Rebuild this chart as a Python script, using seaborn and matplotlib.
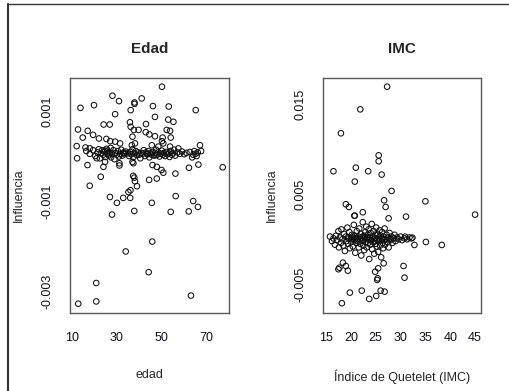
import matplotlib
matplotlib.use("Agg")
import matplotlib.pyplot as plt
import seaborn as sns
import numpy as np
import pandas as pd

# ---------------- data ----------------
# Left panel: edad vs influencia (values of influencia in units of 1e-3)
edad_out = [50.1, 28.1, 31.0, 37.9, 37.9, 41.1, 13.9, 19.9, 46.1, 53.1, 65.1, 36.2, 29.3, 47.0,
            52.9, 55.2, 24.2, 26.9, 35.9, 36.2, 43.0, 12.8, 17.1, 14.9, 19.5, 22.1, 37.6, 39.7,
            42.9, 44.5, 47.0, 50.4, 52.2, 53.7, 54.0, 50.1, 37.0, 25.4, 27.1, 29.3, 31.5, 12.2,
            16.1, 18.1, 67.0, 36.7, 38.1, 45.6, 48.5, 50.7, 53.7, 57.4,
            12.4, 17.0, 21.1, 24.1, 31.2, 31.2, 24.8, 37.4, 37.0, 45.9, 47.8, 49.9, 50.7, 62.1,
            66.3, 77.1, 22.9, 37.3, 37.8, 38.1, 39.0, 18.0, 44.4, 47.8, 56.1, 27.0, 30.1, 32.9,
            36.0, 35.2, 36.1, 45.6, 56.2, 64.0, 66.1, 27.9, 37.8, 54.0, 62.0, 34.0, 45.8, 44.2,
            20.9, 20.9, 12.9, 63.0]
infl_edad_out = [1.54, 1.34, 1.22, 1.16, 1.19, 1.28, 1.07, 1.13, 1.11, 1.10, 1.02, 1.02, 0.93, 0.87,
                 0.81, 0.76, 0.70, 0.70, 0.75, 0.65, 0.71, 0.59, 0.56, 0.41, 0.47, 0.39, 0.58, 0.58,
                 0.53, 0.48, 0.44, 0.41, 0.58, 0.56, 0.41, 0.33, 0.43, 0.38, 0.33, 0.32, 0.28, 0.22,
                 0.19, 0.17, 0.24, 0.24, 0.28, 0.24, 0.21, 0.28, 0.21, 0.17,
                 -0.05, -0.20, -0.05, -0.24, -0.16, -0.21, -0.13, -0.16, -0.13, -0.20, -0.24, -0.31, -0.37, -0.26,
                 -0.19, -0.25, -0.46, -0.44, -0.48, -0.56, -0.67, -0.66, -0.53, -0.50, -0.39, -0.91, -1.04, -0.93,
                 -0.93, -0.80, -0.76, -1.04, -0.89, -1.00, -1.13, -1.30, -1.22, -1.24, -1.23, -2.12, -1.90, -2.58,
                 -2.82, -3.23, -3.28, -3.10]
edad_band = [16.5, 18.0, 19.5, 20.5, 21.5, 22.0, 22.5, 23.0, 23.5, 24.0, 24.5, 25.0, 25.5, 25.8, 26.0,
             26.5, 27.0, 27.3, 27.5, 28.0, 28.5, 29.0, 29.5, 30.0, 30.5, 31.0, 31.5, 32.0, 32.5, 33.0,
             33.5, 34.0, 35.0, 35.5, 36.0, 36.5, 37.0, 37.5, 38.0, 38.5, 39.0, 39.5, 40.0, 40.5, 41.0,
             41.5, 42.0, 42.5, 43.0, 43.5, 44.0, 44.5, 45.0, 45.5, 46.0, 46.5, 47.0, 47.5, 48.0, 48.5,
             49.0, 49.5, 50.0, 50.5, 51.0, 51.5, 52.0, 52.5, 53.0, 53.5, 54.0, 54.5, 55.0, 55.5, 56.0,
             57.0, 58.0, 59.0, 60.0, 61.0, 62.5, 63.5, 64.0, 64.5, 65.0, 65.5, 66.0, 67.5, 33.2, 24.7,
             26.7, 43.8, 47.3]
infl_edad_band = [0.11, 0.05, 0.13, 0.00, 0.08, 0.15, -0.05, 0.06, 0.13, 0.03, 0.09, -0.02, 0.16, 0.05, 0.12,
                  0.01, 0.08, 0.18, -0.03, 0.05, 0.13, -0.07, 0.07, 0.03, 0.11, -0.01, 0.05, 0.14, 0.01, 0.07,
                  0.04, 0.10, 0.06, 0.00, 0.09, 0.04, 0.15, -0.02, 0.06, 0.11, 0.02, 0.08, 0.03, -0.05, 0.07,
                  0.05, 0.13, 0.00, 0.08, 0.04, 0.11, -0.03, 0.06, 0.03, 0.09, 0.01, 0.07, 0.14, 0.03, 0.08,
                  -0.01, 0.05, 0.12, 0.03, 0.07, 0.00, 0.09, 0.04, 0.06, -0.02, 0.11, 0.03, 0.06, 0.14, 0.01,
                  0.08, 0.05, 0.10, 0.04, 0.07, 0.09, -0.03, 0.03, 0.11, 0.05, 0.00, 0.08, 0.11, 0.08, 0.12,
                  0.04, 0.05, 0.02]

# Right panel: IMC vs influencia (values of influencia in units of 1e-3)
imc_out = [27.3, 21.9, 18.0, 25.6, 25.6, 21.0, 16.5, 23.5, 26.2, 20.8, 28.2, 26.7, 35.0, 27.0, 19.0,
           19.6, 22.4, 20.8, 31.1, 27.6, 45.0, 20.7, 17.5, 17.7, 18.4, 19.0, 19.4, 18.2, 19.8, 22.2,
           23.7, 25.1, 26.0, 26.8, 25.3, 25.4, 24.9, 25.5, 26.6, 30.6, 30.8, 38.3, 35.1, 32.8, 30.9,
           32.4]
infl_imc_out = [16.96, 14.44, 11.78, 9.33, 8.67, 7.96, 7.56, 7.56, 7.19, 6.41, 5.37, 4.33, 4.22, 3.59, 3.89,
                3.59, 3.00, 2.63, 2.52, 2.33, 2.74, 2.62, -3.33, -3.16, -2.60, -2.97, -3.49, -7.11, -5.93, -5.71,
                -6.63, -6.30, -5.71, -5.82, -4.52, -4.34, -3.60, -3.22, -2.67, -2.97, -4.27, -0.63, -0.30, -0.63, 0.29,
                0.18]
imc_band = [15.8, 16.2, 16.5, 16.8, 17.0, 17.2, 17.5, 17.6, 17.8, 18.0, 18.1, 18.3, 18.5, 18.6, 18.8,
            19.0, 19.1, 19.3, 19.4, 19.6, 19.7, 19.8, 20.0, 20.1, 20.2, 20.4, 20.5, 20.6, 20.7, 20.8,
            20.9, 21.0, 21.1, 21.2, 21.3, 21.5, 21.6, 21.7, 21.8, 21.9, 22.0, 22.1, 22.2, 22.3, 22.4,
            22.5, 22.6, 22.7, 22.8, 22.9, 23.0, 23.1, 23.2, 23.3, 23.4, 23.5, 23.6, 23.7, 23.8, 23.9,
            24.0, 24.1, 24.2, 24.3, 24.4, 24.5, 24.6, 24.7, 24.8, 24.9, 25.0, 25.1, 25.2, 25.3, 25.4,
            25.5, 25.6, 25.7, 25.8, 25.9, 26.0, 26.1, 26.2, 26.3, 26.4, 26.5, 26.6, 26.7, 26.8, 26.9,
            27.0, 27.2, 27.3, 27.5, 27.6, 27.8, 28.0, 28.2, 28.4, 28.6, 28.8, 29.0, 29.3, 29.6, 30.0,
            30.3, 30.8, 31.3, 31.8, 32.2, 20.3, 21.4, 22.4, 23.3, 24.3, 25.3, 26.3, 19.5, 27.8, 23.8,
            24.8, 22.8]
infl_imc_band = [0.3, -0.2, 0.1, -0.6, 0.4, -0.1, 0.9, -0.9, 0.2, -0.4, 1.1, 0.0, -0.7, 0.6, -1.3,
                 0.3, -0.2, 1.3, -0.5, 0.1, 0.8, -1.0, 0.0, -0.3, 0.5, -0.8, 0.2, 1.6, -0.1, 0.4,
                 -1.5, 0.1, -0.4, 0.9, -0.2, 0.3, -0.9, 1.2, 0.0, -0.5, 0.6, -1.8, 0.2, -0.2, 1.9,
                 -0.7, 0.4, -1.2, 0.1, 0.8, -0.3, 1.4, -0.9, 0.0, 0.5, -0.4, 1.1, -2.2, 0.2, -0.6,
                 0.7, -0.1, 1.7, -1.1, 0.3, -0.3, 0.9, -1.6, 0.1, 0.5, -0.5, 1.3, -0.8, 0.0, 0.6,
                 -1.4, 0.2, -0.2, 1.0, -0.7, 0.4, -2.0, 0.1, 0.8, -0.4, -1.0, 0.3, -0.1, 1.2, -0.6,
                 0.0, 0.5, -0.3, 0.2, -0.9, 0.7, -0.1, 0.3, -0.4, 0.1, 0.5, -0.2, 0.2, 0.0, 0.3,
                 -0.1, 0.1, 0.0, 0.2, 0.1, 0.1, 0.0, -0.1, 0.2, 0.1, -0.1, 0.0, 0.2, 0.0, -0.1,
                 -0.2, 0.3]

left_xticks = [10, 20, 30, 40, 50, 60, 70]
left_xlabels = ["10", "", "30", "", "50", "", "70"]
left_yticks = [0.001, 0.0, -0.001, -0.002, -0.003]
left_ylabels = ["0.001", "", "-0.001", "", "-0.003"]
right_xticks = [15, 20, 25, 30, 35, 40, 45]
right_xlabels = ["15", "20", "25", "30", "35", "40", "45"]
right_yticks = [0.015, 0.010, 0.005, 0.0, -0.005]
right_ylabels = ["0.015", "", "0.005", "", "-0.005"]

df_edad = pd.DataFrame({"edad": edad_out + edad_band,
                        "influencia": [v * 1e-3 for v in infl_edad_out + infl_edad_band]})
df_imc = pd.DataFrame({"imc": imc_out + imc_band,
                       "influencia": [v * 1e-3 for v in infl_imc_out + infl_imc_band]})

# ---------------- figure ----------------
sns.set_style("white")
plt.rcParams["font.family"] = ["Liberation Sans", "DejaVu Sans"]

W, H = 510, 391
fig = plt.figure(figsize=(W / 100, H / 100), dpi=100)
fig.patch.set_facecolor("white")

def frac(x0, y0, x1, y1):
    return [x0 / W, 1 - y1 / H, (x1 - x0) / W, (y1 - y0) / H]

axL = fig.add_axes(frac(70, 77.7, 229, 312.7))
axR = fig.add_axes(frac(323.3, 78.3, 481, 312.7))

box_col = "#5a5a5a"

def style(ax, xlim, ylim, xt, xl, yt, yl, title, xlabel):
    pts = ax.collections[-1]
    pts.set_facecolor("none")
    pts.set_edgecolor("#111111")
    pts.set_linewidth(0.75)
    ax.set_xlim(*xlim)
    ax.set_ylim(*ylim)
    ax.set_xticks(xt)
    ax.set_xticklabels(xl, fontsize=9)
    ax.set_yticks(yt)
    ax.set_yticklabels(yl, fontsize=9, rotation=90, va="center")
    ax.tick_params(axis="both", direction="out", length=5, width=0.9, color=box_col,
                   labelcolor="#111122")
    ax.tick_params(axis="x", pad=9)
    ax.tick_params(axis="y", pad=7)
    for s in ax.spines.values():
        s.set_color(box_col)
        s.set_linewidth(1.0)
    ax.set_title(title, fontsize=11, fontweight="bold", pad=18)
    ax.set_xlabel(xlabel, fontsize=9, labelpad=18)
    ax.set_ylabel("Influencia", fontsize=9, labelpad=12)
    ax.grid(False)

sns.scatterplot(data=df_edad, x="edad", y="influencia", ax=axL, marker="o", s=16, legend=False)
style(axL, (9.24, 79.9), (-0.00348, 0.00174), left_xticks, left_xlabels,
      left_yticks, left_ylabels, "Edad", "edad")

sns.scatterplot(data=df_imc, x="imc", y="influencia", ax=axR, marker="o", s=16, legend=False)
style(axR, (14.46, 46.19), (-0.00816, 0.01789), right_xticks, right_xlabels,
      right_yticks, right_ylabels, "IMC", "Índice de Quetelet (IMC)")

# window frame lines at the left/top edge
fig.add_artist(plt.Line2D([8 / W, 8 / W], [0, 1 - 4 / H], transform=fig.transFigure,
                          color="#333333", linewidth=1.5))
fig.add_artist(plt.Line2D([8 / W, 1], [1 - 4 / H, 1 - 4 / H], transform=fig.transFigure,
                          color="#333333", linewidth=1.0))

fig.savefig("out.png", dpi=100, facecolor="white")
